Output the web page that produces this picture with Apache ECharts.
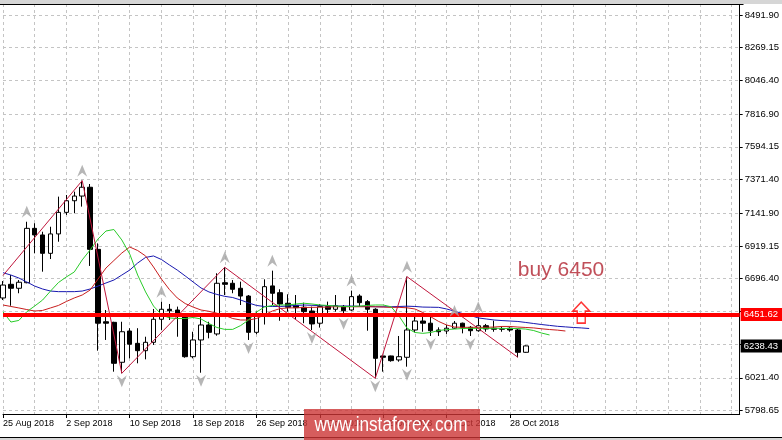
<!DOCTYPE html>
<html><head><meta charset="utf-8">
<script src="https://cdn.jsdelivr.net/npm/echarts@6/dist/echarts.min.js"></script>
<style>html,body{margin:0;padding:0;background:#fff;}#c{width:782px;height:440px;}</style>
</head><body><div id="c"></div>
<script>
// ---------- categories (daily bars, BTCUSD D1) ----------
const monthNames = ['Jan','Feb','Mar','Apr','May','Jun','Jul','Aug','Sep','Oct','Nov','Dec'];
const categories = [];
for (let i = 0; i < 94; i++) {
  const d = new Date(Date.UTC(2018, 7, 25 + i));
  categories.push(d.getUTCDate() + ' ' + monthNames[d.getUTCMonth()] + ' ' + d.getUTCFullYear());
}
const lastBarIndex = 66;

// ---------- candle values ----------
const opens  = [6565,6658,6631,6669,7039,6994,6869,7001,7148,7227,7259,7319,6896,6403,6399,6127,6340,6256,6206,6263,6420,6488,6483,6454,6165,6279,6381,6320,6669,6665,6631,6578,6331,6456,6647,6601,6529,6515,6502,6476,6393,6506,6488,6508,6483,6578,6540,6488,6170,6170,6143,6161,6347,6408,6393,6347,6340,6359,6393,6365,6342,6376,6359,6352,6359,6347,6195];
const closes = [6653,6631,6672,7039,6994,6869,7001,7148,7227,7259,7319,6896,6393,6393,6120,6335,6250,6206,6263,6420,6488,6478,6451,6165,6279,6381,6331,6665,6658,6624,6578,6331,6454,6642,6597,6524,6502,6499,6472,6388,6506,6488,6512,6478,6574,6533,6488,6154,6161,6138,6165,6347,6408,6393,6342,6335,6359,6393,6365,6342,6376,6354,6352,6355,6347,6195,6238.43];
const lows   = [6551,6512,6597,6665,6869,6744,6830,6948,7130,7142,7187,6783,6206,6279,6063,6052,6154,6120,6147,6245,6347,6415,6301,6158,6154,6056,6290,6308,6585,6597,6517,6279,6318,6384,6517,6410,6472,6415,6393,6347,6363,6456,6472,6444,6478,6506,6342,6018,6063,6131,6131,6097,6331,6335,6306,6306,6320,6354,6324,6306,6335,6335,6335,6335,6335,6161,6192];
const highs  = [6680,6721,6687,7084,7074,7016,7050,7255,7266,7289,7364,7341,6937,6483,6403,6403,6359,6359,6301,6490,6540,6524,6506,6461,6335,6461,6403,6733,6774,6687,6676,6585,6472,6692,6751,6624,6590,6585,6533,6506,6522,6540,6585,6517,6615,6590,6551,6495,6172,6172,6306,6710,6444,6442,6444,6365,6381,6408,6397,6374,6433,6388,6410,6374,6365,6354,6242];

// ---------- Alligator lines (shifted forward) ----------
const jaw   = [6737,6721,6701,6674,6646,6626,6612,6608,6608,6608,6612,6626,6646,6667,6687,6721,6755,6803,6841,6851,6827,6790,6755,6715,6674,6633,6606,6589,6576,6568,6551,6531,6514,6507,6507,6507,6510,6514,6517,6515,6513,6512,6510,6510,6510,6508,6507,6505,6505,6505,6507,6509,6507,6503,6502,6501,6490,6475,6459,6446,6429,6422,6415,6411,6408,6405,6398,6391,6384,6378,6372,6368,6364,6361,6357];
const teeth = [6517,6507,6497,6486,6476,6480,6497,6514,6541,6565,6585,6619,6694,6769,6820,6871,6912,6888,6851,6776,6694,6623,6565,6527,6503,6483,6474,6461,6447,6425,6415,6415,6425,6449,6476,6493,6497,6498,6500,6501,6502,6503,6505,6505,6505,6505,6505,6505,6503,6501,6501,6498,6490,6466,6437,6405,6381,6367,6365,6365,6365,6365,6367,6371,6371,6367,6364,6361,6355,6350,6346,6340];
const lips  = [6471,6401,6412,6471,6510,6551,6612,6670,6708,6742,6824,6892,6967,7021,7031,6960,6864,6721,6606,6510,6452,6429,6425,6425,6432,6422,6391,6364,6351,6351,6377,6415,6469,6503,6514,6517,6517,6524,6529,6524,6517,6514,6510,6507,6507,6510,6514,6517,6517,6505,6442,6360,6330,6324,6330,6343,6350,6353,6357,6358,6358,6358,6358,6358,6357,6357,6353,6343,6326,6313];

// ---------- ZigZag vertices [barIndex, price] ----------
const zigzag = [[0,6718],[10,7364],[15,6052],[28,6774],[47,6018],[51,6710],[65,6161]];

// ---------- Fractals (bar indices) ----------
const fractalUp   = [3,10,20,28,34,44,51,57,60];
const fractalDown = [15,25,31,39,43,47,51,54,59];

// ---------- levels / annotations ----------
const levelPrice = 6451.62;
const bidPrice = 6238.43;
const noteText = 'buy 6450';
const notePoint = [65, 6755];
const arrowPoint = [73, 6465];

// ---------- price axis ticks ----------
const yTickValues = [5798.65,6021.40,6250.90,6473.65,6696.40,6919.15,7141.90,7371.40,7594.15,7816.90,8046.40,8269.15,8491.90];
const yHiddenTicks = [6250.90,6473.65];
const yMin = 5774.8, yMax = 8566.8;

const FONT = '"Liberation Sans", Arial, sans-serif';
const candleData = opens.map((o, i) => [o, closes[i], lows[i], highs[i]]);

const chart = echarts.init(document.getElementById('c'), null, {renderer: 'canvas'});
chart.setOption({
  animation: false,
  backgroundColor: '#ffffff',
  grid: {left: -1, right: 39, top: 4, bottom: 26, containLabel: false},
  xAxis: {
    type: 'category', data: categories, boundaryGap: false,
    axisLine: {show: true, lineStyle: {color: '#000', width: 1}},
    axisTick: {show: true, length: 4, lineStyle: {color: '#000'},
      interval: (idx) => idx % 8 === 0 && idx <= lastBarIndex},
    axisLabel: {show: true, color: '#000', fontSize: 9, fontFamily: FONT, align: 'left', margin: 5,
      interval: (idx) => idx % 8 === 0 && idx <= lastBarIndex},
    splitLine: {show: true, interval: 3, lineStyle: {color: '#c4c4c4', type: [3, 3], width: 1}}
  },
  yAxis: {
    type: 'value', position: 'right', min: yMin, max: yMax, scale: true,
    axisLine: {show: true, lineStyle: {color: '#000', width: 1}},
    axisTick: {show: true, length: 3, lineStyle: {color: '#000'}, customValues: yTickValues},
    axisLabel: {show: true, color: '#000', fontSize: 9.5, fontFamily: FONT, margin: 5, customValues: yTickValues,
      formatter: (v) => yHiddenTicks.some(h => Math.abs(h - v) < 0.01) ? '' : v.toFixed(2)},
    splitLine: {show: true, lineStyle: {color: '#c4c4c4', type: [3, 3], width: 1}}
  },
  series: [
    {
      name: 'level', type: 'line', data: [], z: 1, silent: true,
      markLine: {
        silent: true, symbol: ['none', 'none'], animation: false,
        data: [
          {yAxis: levelPrice, lineStyle: {color: '#ff0000', width: 4, type: 'solid'},
           label: {show: true, position: 'end', distance: 1, formatter: (p) => p.value.toFixed(2),
             color: '#fff', backgroundColor: '#ff0000', padding: [2, 4, 1, 3], fontSize: 9.5, fontFamily: FONT}},
          {yAxis: bidPrice, lineStyle: {color: 'rgba(0,0,0,0)', width: 1, type: 'solid'},
           label: {show: true, position: 'end', distance: 1, formatter: (p) => p.value.toFixed(2),
             color: '#fff', backgroundColor: '#000000', padding: [2, 4, 1, 3], fontSize: 9.5, fontFamily: FONT}}
        ]
      }
    },
    {
      name: 'BTCUSD', type: 'candlestick', data: candleData, z: 2, barWidth: 5,
      itemStyle: {color: '#ffffff', color0: '#000000', borderColor: '#000000', borderColor0: '#000000', borderWidth: 1}
    },
    {name: 'Jaw', type: 'line', data: jaw, z: 3, showSymbol: false, symbol: 'none', lineStyle: {color: '#1818b0', width: 1}},
    {name: 'Teeth', type: 'line', data: teeth, z: 3, showSymbol: false, symbol: 'none', lineStyle: {color: '#c81e1e', width: 1}},
    {name: 'Lips', type: 'line', data: lips, z: 3, showSymbol: false, symbol: 'none', lineStyle: {color: '#2acc2a', width: 1}},
    {name: 'ZigZag', type: 'line', data: zigzag, z: 4, showSymbol: false, symbol: 'none', lineStyle: {color: '#c0163c', width: 1}},
    {
      name: 'FractalUp', type: 'scatter', z: 5,
      data: fractalUp.map(i => [i, highs[i]]),
      symbol: 'path://M5,0 L10,12 L5,8 L0,12 Z', symbolSize: [10, 12], symbolOffset: [0, -10],
      itemStyle: {color: '#a4a4a4'}
    },
    {
      name: 'FractalDown', type: 'scatter', z: 5,
      data: fractalDown.map(i => [i, lows[i]]),
      symbol: 'path://M0,0 L5,4 L10,0 L5,12 Z', symbolSize: [10, 12], symbolOffset: [0, 8],
      itemStyle: {color: '#a4a4a4'}
    },
    {
      name: 'note', type: 'scatter', z: 6, data: [notePoint], symbolSize: 0,
      label: {show: true, position: 'right', distance: 0, formatter: noteText, color: '#b0232f',
        fontSize: 21, fontFamily: FONT}
    },
    {
      name: 'arrow', type: 'scatter', z: 6, data: [arrowPoint],
      symbol: 'path://M8.5,0 L17,9 L12.5,9 L12.5,21 L4.5,21 L4.5,9 L0,9 Z', symbolSize: [17, 21],
      itemStyle: {color: 'rgba(0,0,0,0)', borderColor: '#ff0000', borderWidth: 1.5}
    }
  ],
  graphic: [
    {type: 'rect', z: 50, shape: {x: 0, y: 0, width: 782, height: 4}, style: {fill: '#d6d6d6'}},
    {type: 'line', z: 51, shape: {x1: 0, y1: 4.5, x2: 743.5, y2: 4.5}, style: {stroke: '#000', lineWidth: 1}},
    {type: 'line', z: 51, shape: {x1: 0, y1: 437.5, x2: 782, y2: 437.5}, style: {stroke: '#000', lineWidth: 1}},
    {type: 'rect', z: 50, shape: {x: 0, y: 438, width: 782, height: 2}, style: {fill: '#d6d6d6'}},
    {type: 'rect', z: 100, shape: {x: 304, y: 409, width: 176, height: 31}, style: {fill: 'rgba(204,52,52,0.8)'}},
    {type: 'text', z: 101, x: 391, y: 425, scaleX: 0.86,
      style: {text: 'www.instaforex.com', fill: '#ffffff', font: '20px "Liberation Sans", Arial, sans-serif',
        align: 'center', verticalAlign: 'middle'}}
  ]
});
</script>
</body></html>
